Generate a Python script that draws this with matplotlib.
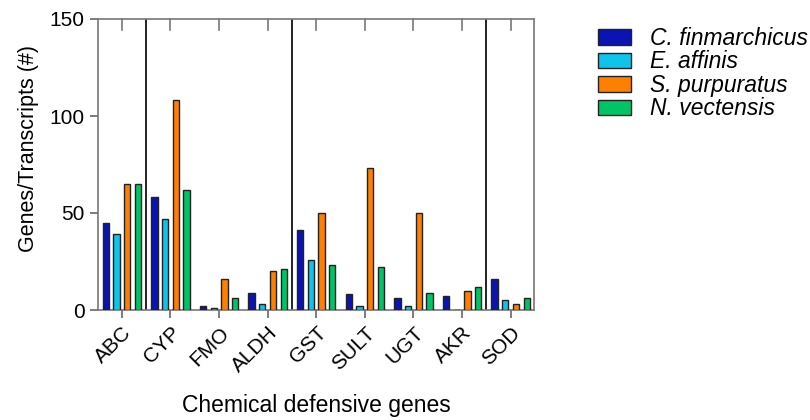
import numpy as np
import matplotlib
matplotlib.use("Agg")
import matplotlib.pyplot as plt

plt.rcParams['font.family'] = ['Liberation Sans', 'DejaVu Sans']

# Data
genes = ["ABC", "CYP", "FMO", "ALDH", "GST", "SULT", "UGT", "AKR", "SOD"]
species = ["C. finmarchicus", "E. affinis", "S. purpuratus", "N. vectensis"]
c_finmarchicus = [45, 58, 2, 9, 41, 8, 6, 7, 16]
e_affinis = [39, 47, 1, 3, 26, 2, 2, 0, 5]
s_purpuratus = [65, 108, 16, 20, 50, 73, 50, 10, 3]
n_vectensis = [65, 62, 6, 21, 23, 22, 9, 12, 6]
colors = ["#0A14B4", "#0CC4EC", "#FF7F00", "#00C466"]
separators_after = [0, 3, 7]  # vertical lines after these groups

series = [c_finmarchicus, e_affinis, s_purpuratus, n_vectensis]

fig = plt.figure(figsize=(8.1, 4.2), dpi=100)
ax = fig.add_axes([98 / 810, 110 / 420, 436 / 810, 291 / 420])

x = np.arange(len(genes))
step = 0.22
width = 0.13
for i, (vals, col, name) in enumerate(zip(series, colors, species)):
    ax.bar(x + (i - 1.5) * step, vals, width, color=col, edgecolor="#222222",
           linewidth=1.0, label=name, zorder=3)

for g in separators_after:
    ax.axvline(g + 0.5, color="#222222", linewidth=1.4, zorder=2)

ax.set_xlim(-0.49, 8.48)
ax.set_ylim(0, 150)
ax.set_yticks([0, 50, 100, 150])
ax.set_xticks(x)
ax.set_xticklabels(genes, rotation=45, ha="right", rotation_mode="anchor")
ax.tick_params(axis="both", labelsize=15, color="#666666", width=1.2, length=6)
for s in ax.spines.values():
    s.set_color("#777777")
    s.set_linewidth(1.2)

# inward ticks along the top edge
for xi in x:
    ax.plot([xi, xi], [150, 150 - 10.5 * 150 / 291], color="#777777",
            linewidth=1.2, clip_on=False, zorder=4)

ax.set_ylabel("Genes/Transcripts (#)", fontsize=15.5)
ax.yaxis.set_label_coords(-0.135, 0.555)
ax.set_xlabel("Chemical defensive genes", fontsize=16.5, va="top")
ax.xaxis.set_label_coords(0.5, -0.29)

leg = fig.legend(loc="upper left", bbox_to_anchor=(598 / 810, 1 - 27 / 420),
                 frameon=False, fontsize=16.5, handlelength=1.45, handleheight=0.65,
                 labelspacing=0.02, handletextpad=0.8, borderaxespad=0,
                 borderpad=0)
for t in leg.get_texts():
    t.set_fontstyle("italic")

fig.savefig("out.png", dpi=100)
